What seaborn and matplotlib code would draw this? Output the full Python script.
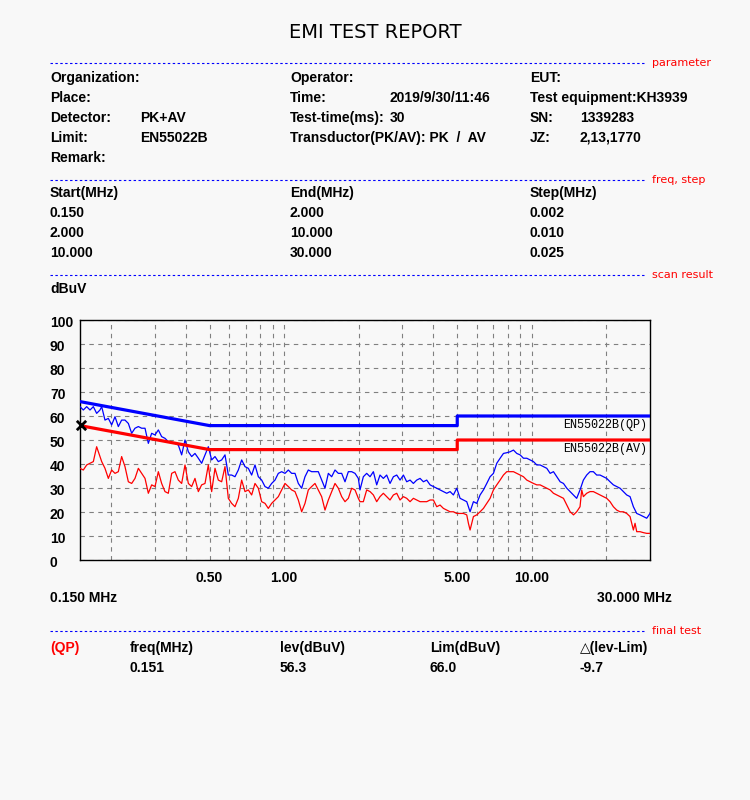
import numpy as np
import pandas as pd
import matplotlib
matplotlib.use("Agg")
import matplotlib.pyplot as plt
import matplotlib.transforms as mtransforms
from matplotlib.lines import Line2D
from matplotlib.ticker import NullLocator
import seaborn as sns

# ---------------- data ----------------
freq_mhz = [
    0.150, 0.1547, 0.1596, 0.1646, 0.1698, 0.1751, 0.1806, 0.1835, 0.1892, 0.1952,
    0.2013, 0.2077, 0.2142, 0.2209, 0.2279, 0.2351, 0.2425, 0.2501, 0.2580, 0.2661,
    0.2745, 0.2831, 0.2920, 0.3012, 0.3107, 0.3204, 0.3305, 0.3409, 0.3517, 0.3627,
    0.3741, 0.3859, 0.3981, 0.4106, 0.4235, 0.4368, 0.4506, 0.4647, 0.4794, 0.4945,
    0.5100, 0.5261, 0.5426, 0.5597, 0.5773, 0.5955, 0.6142, 0.6335, 0.6535, 0.6740,
    0.6953, 0.7171, 0.7397, 0.7630, 0.7870, 0.8118, 0.8373, 0.8636, 0.8908, 0.9189,
    0.9478, 0.9776, 1.0084, 1.0401, 1.0728, 1.1066, 1.1414, 1.1773, 1.2144, 1.2526,
    1.2920, 1.3327, 1.3746, 1.4179, 1.4625, 1.5088, 1.5562, 1.6052, 1.6557, 1.7078,
    1.7616, 1.8170, 1.8741, 1.9332, 1.9940,
    2.025, 2.089, 2.155, 2.223, 2.293, 2.365, 2.439, 2.516, 2.595, 2.677,
    2.762, 2.849, 2.938, 3.031, 3.126, 3.225, 3.326, 3.431, 3.539, 3.650,
    3.765, 3.884, 4.006, 4.132, 4.262, 4.397, 4.535, 4.678, 4.825, 4.977,
    5.134, 5.295, 5.462, 5.547, 5.634, 5.812, 5.995, 6.183, 6.378, 6.579,
    6.786, 7.000, 7.220, 7.447, 7.682, 7.924, 8.173, 8.431, 8.696, 8.970,
    9.252, 9.544, 9.844, 10.154, 10.474, 10.804, 11.144, 11.495, 11.857, 12.230,
    12.615, 13.013, 13.422, 13.845, 14.281, 14.731, 15.177, 15.655, 15.90, 16.148,
    16.656, 17.181, 17.721, 18.279, 18.855, 19.449, 20.061, 20.693, 21.344, 22.016,
    22.709, 23.424, 24.162, 24.923, 25.312, 25.707, 26.109, 26.517, 27.352, 28.212,
    29.101, 30.0,
]

pk_dbuv = [
    63.9, 62.5, 63.9, 62.5, 63.9, 61.1, 62.5, 63.9, 58.3, 59.0,
    56.3, 59.7, 55.6, 58.3, 58.3, 56.9, 52.8, 54.9, 55.6, 54.9,
    54.9, 48.6, 52.8, 52.1, 54.2, 51.4, 50.7, 49.3, 48.6, 48.6,
    47.9, 43.8, 50.0, 45.1, 43.1, 44.4, 42.4, 40.3, 43.8, 47.2,
    41.7, 43.1, 41.0, 41.7, 43.8, 35.4, 35.4, 34.7, 37.5, 41.7,
    38.9, 38.2, 35.4, 39.6, 34.7, 33.3, 30.6, 29.9, 31.9, 33.3,
    36.1, 36.8, 36.1, 37.5, 36.1, 36.1, 31.9, 29.9, 34.7, 37.5,
    36.8, 36.8, 36.8, 33.3, 29.9, 36.1, 34.7, 37.5, 36.1, 36.1,
    32.6, 36.8, 36.8, 36.1, 34.0,
    29.2, 34.7, 36.1, 34.7, 36.8, 31.3, 35.4, 34.0, 35.4, 31.9,
    34.7, 35.4, 33.3, 35.4, 32.6, 33.3, 31.9, 33.3, 34.0, 32.6,
    33.3, 31.3, 30.6, 29.9, 29.2, 28.5, 27.8, 28.5, 27.1, 29.9,
    25.7, 25.0, 24.3, 22.2, 20.1, 24.3, 23.6, 27.1, 29.2, 31.9,
    34.7, 36.1, 40.3, 42.4, 44.4, 44.7, 45.1, 45.8, 44.4, 43.8,
    42.4, 42.4, 41.7, 41.0, 39.6, 39.6, 38.9, 38.2, 36.1, 36.8,
    34.7, 32.6, 31.9, 29.9, 28.5, 27.1, 25.7, 29.2, 31.3, 33.3,
    35.4, 36.8, 36.8, 35.4, 35.4, 34.7, 34.0, 32.6, 31.3, 30.6,
    29.9, 28.5, 27.1, 26.4, 24.3, 22.2, 20.8, 19.4, 18.8, 18.1,
    17.4, 19.4,
]

av_dbuv = [
    38.2, 37.5, 39.6, 40.3, 41.0, 47.2, 43.1, 41.0, 38.2, 34.0,
    37.5, 36.1, 36.8, 43.1, 38.9, 32.6, 31.9, 34.0, 38.2, 36.1,
    34.0, 27.8, 31.3, 30.6, 36.8, 31.9, 28.5, 27.8, 36.1, 36.8,
    33.3, 31.9, 39.6, 31.9, 30.6, 34.0, 28.5, 31.3, 31.9, 39.6,
    28.5, 38.2, 33.3, 32.6, 38.9, 25.7, 23.6, 22.2, 25.7, 33.3,
    28.5, 29.2, 27.1, 31.9, 29.9, 24.3, 23.6, 21.5, 23.6, 25.0,
    26.4, 29.2, 31.9, 30.6, 29.2, 28.5, 25.0, 20.1, 23.6, 29.2,
    30.6, 31.9, 29.2, 26.4, 20.8, 25.0, 28.5, 31.9, 29.9, 26.4,
    24.3, 25.7, 29.9, 29.2, 25.7,
    24.3, 24.3, 29.2, 28.5, 27.1, 24.3, 26.4, 27.8, 26.4, 25.0,
    27.1, 27.8, 25.0, 26.4, 25.7, 24.3, 25.7, 25.0, 24.3, 24.3,
    24.3, 25.0, 25.0, 22.2, 22.9, 21.5, 20.8, 20.1, 20.1, 19.4,
    19.4, 19.4, 18.8, 15.3, 12.5, 18.1, 18.8, 20.1, 21.5, 23.6,
    25.7, 29.2, 31.3, 33.3, 35.4, 36.8, 36.8, 36.8, 36.1, 35.4,
    34.7, 33.3, 32.6, 31.9, 31.3, 31.3, 30.6, 29.9, 29.2, 27.8,
    27.1, 26.4, 25.7, 22.9, 20.1, 18.8, 20.1, 22.2, 29.2, 26.4,
    27.8, 28.5, 28.5, 27.8, 27.1, 26.4, 25.7, 24.3, 22.2, 20.8,
    20.1, 20.1, 19.4, 18.1, 15.3, 12.5, 15.3, 11.8, 11.8, 11.4,
    11.1, 11.1,
]

qp_limit_freq = [0.15, 0.5, 5.0, 5.0, 30.0]
qp_limit_dbuv = [66, 56, 56, 60, 60]
av_limit_freq = [0.15, 0.5, 5.0, 5.0, 30.0]
av_limit_dbuv = [56, 46, 46, 50, 50]

grid_freqs = [0.2, 0.3, 0.4, 0.5, 0.6, 0.7, 0.8, 0.9, 1.0,
              2, 3, 4, 5, 6, 7, 8, 9, 10, 20]
labelled_freqs = {0.5: "0.50", 1.0: "1.00", 5: "5.00", 10: "10.00"}
y_ticks = [0, 10, 20, 30, 40, 50, 60, 70, 80, 90, 100]

final_freq = 0.151
final_lev = 56.3
final_lim = 66.0
final_delta = -9.7

param_rows = [
    [("Organization:", 50), ("Operator:", 290), ("EUT:", 530)],
    [("Place:", 50), ("Time:", 290), ("2019/9/30/11:46", 390), ("Test equipment:KH3939", 530)],
    [("Detector:", 50), ("PK+AV", 140), ("Test-time(ms):", 290), ("30", 390), ("SN:", 530), ("1339283", 580)],
    [("Limit:", 50), ("EN55022B", 140), ("Transductor(PK/AV): PK  /  AV", 290), ("JZ:", 530), ("2,13,1770", 580)],
    [("Remark:", 50)],
]
step_header = ["Start(MHz)", "End(MHz)", "Step(MHz)"]
step_start = ["0.150", "2.000", "10.000"]
step_end = ["2.000", "10.000", "30.000"]
step_size = ["0.002", "0.010", "0.025"]

# ---------------- style ----------------
BG = "#f8f8f8"
BODY = ["Liberation Sans", "DejaVu Sans"]
plt.rcParams["font.family"] = BODY

W, H = 750, 800
fig = plt.figure(figsize=(7.5, 8), dpi=100, facecolor=BG)


def fx(px):
    return px / W


def fy(py):
    return 1 - py / H


def body(px, py, s, **kw):
    kw.setdefault("fontsize", 10)
    kw.setdefault("fontweight", "bold")
    kw.setdefault("family", BODY)
    fig.text(fx(px), fy(py), s, ha=kw.pop("ha", "left"), va="center", **kw)


def separator(py, label):
    fig.add_artist(Line2D([fx(50), fx(646)], [fy(py), fy(py)], color="#0000ff",
                          lw=0.8, linestyle=(0, (2.2, 2.2))))
    fig.text(fx(652), fy(py), label, color="#ff0000", fontsize=8,
             family=["DejaVu Sans"], ha="left", va="center")


fig.text(0.5, fy(33), "EMI TEST REPORT", ha="center", va="center",
         fontsize=14, family=["DejaVu Sans"])

separator(63, "parameter")
for i, row in enumerate(param_rows):
    for s, px in row:
        body(px, 78 + 20 * i, s)

separator(180, "freq, step")
cols = [50, 290, 530]
for s, px in zip(step_header, cols):
    body(px, 193, s)
for i in range(3):
    body(50, 213 + 20 * i, step_start[i])
    body(290, 213 + 20 * i, step_end[i])
    body(530, 213 + 20 * i, step_size[i])

separator(275, "scan result")
body(50, 289, "dBuV")

# ---------------- plot ----------------
ax = fig.add_axes([fx(80), 1 - 560 / H, 570 / W, 240 / H])
ax.set_facecolor(BG)

df = pd.DataFrame({"freq": freq_mhz, "pk": pk_dbuv, "av": av_dbuv})
sns.lineplot(data=df, x="freq", y="pk", ax=ax, color="#0000ff", lw=0.9,
             estimator=None, sort=False, legend=False, zorder=3)
sns.lineplot(data=df, x="freq", y="av", ax=ax, color="#ff0000", lw=0.9,
             estimator=None, sort=False, legend=False, zorder=3)
sns.lineplot(x=qp_limit_freq, y=qp_limit_dbuv, ax=ax, color="#0000ff", lw=2.3,
             estimator=None, sort=False, legend=False, zorder=4)
sns.lineplot(x=av_limit_freq, y=av_limit_dbuv, ax=ax, color="#ff0000", lw=2.3,
             estimator=None, sort=False, legend=False, zorder=4)
sns.scatterplot(x=[final_freq], y=[final_lev], ax=ax, marker="x", color="black",
                s=45, linewidth=2, zorder=6, clip_on=False, legend=False)

ax.set_xscale("log")
ax.set_xlim(0.15, 30)
ax.set_ylim(0, 100)
ax.set_xticks(grid_freqs)
ax.set_xticklabels([labelled_freqs.get(f, "") for f in grid_freqs],
                   fontsize=10, fontweight="bold")
ax.xaxis.set_minor_locator(NullLocator())
ax.set_yticks(y_ticks)
ax.set_yticklabels([])
ax.tick_params(length=0)
ax.tick_params(axis="x", pad=8)
ax.grid(True, color="#808080", lw=0.8, linestyle=(0, (4, 4)), zorder=1)
ax.set_axisbelow(True)
ax.set_xlabel("")
ax.set_ylabel("")
for sp in ax.spines.values():
    sp.set_color("black")
    sp.set_linewidth(1.0)

ytrans = mtransforms.blended_transform_factory(fig.transFigure, ax.transData) + \
    mtransforms.ScaledTranslation(0, -2 / 72, fig.dpi_scale_trans)
for v in y_ticks:
    ax.text(fx(50), v, str(v), transform=ytrans, ha="left", va="center",
            fontsize=10, fontweight="bold", clip_on=False)

ax.annotate("EN55022B(QP)", xy=(30, qp_limit_dbuv[-1]), xytext=(-2, -2.5),
            textcoords="offset points", ha="right", va="top", fontsize=8.5,
            family=["Liberation Mono", "DejaVu Sans Mono"])
ax.annotate("EN55022B(AV)", xy=(30, av_limit_dbuv[-1]), xytext=(-2, -2.5),
            textcoords="offset points", ha="right", va="top", fontsize=8.5,
            family=["Liberation Mono", "DejaVu Sans Mono"])

body(50, 598, "0.150 MHz")
body(672, 598, "30.000 MHz", ha="right")

# ---------------- final test ----------------
separator(631, "final test")
body(50, 648, "(QP)", color="#ff0000")
body(130, 648, "freq(MHz)")
body(280, 648, "lev(dBuV)")
body(430, 648, "Lim(dBuV)")
body(580, 648, "\u25b3(lev-Lim)")
body(130, 668, f"{final_freq:.3f}")
body(280, 668, f"{final_lev:.1f}")
body(430, 668, f"{final_lim:.1f}")
body(580, 668, f"{final_delta:.1f}")

fig.savefig("out.png", dpi=100, facecolor=BG)
